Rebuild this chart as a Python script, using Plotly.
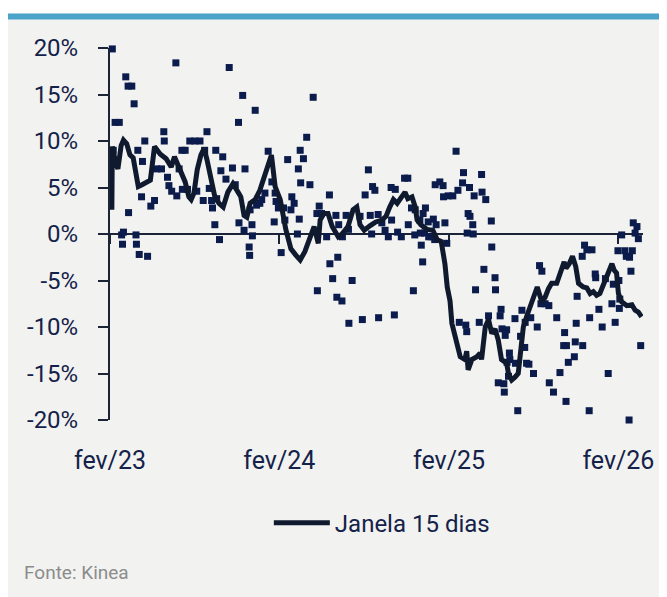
import pandas as pd
import plotly.graph_objects as go

START = pd.Timestamp("2023-02-01")

# 15-day window line: day offset from 2023-02-01, value in %
line_day = [
    4, 5, 13, 17, 24, 29, 36, 43, 50, 56,
    61, 69, 80, 87, 96, 108, 121, 132, 139, 151,
    162, 170, 175, 181, 188, 196, 203, 209, 218, 226,
    235, 244, 254, 265, 276, 282, 289, 295, 302, 313,
    323, 332, 341, 348, 356, 367, 379, 390, 401, 410,
    420, 431, 440, 449, 453, 461, 470, 479, 492, 500,
    513, 524, 532, 539, 548, 561, 573, 586, 595, 603,
    611, 619, 629, 636, 642, 651, 658, 662, 670, 683,
    696, 705, 714, 722, 727, 733, 737, 748, 755, 765,
    769, 772, 780, 791, 798, 801, 809, 816, 823, 830,
    837, 844, 855, 859, 866, 873, 880, 884, 891, 898,
    909, 921, 931, 938, 945, 952, 963, 970, 979, 983,
    990, 997, 1004, 1010, 1020, 1028, 1035, 1042, 1049, 1056,
    1064, 1071, 1082, 1087, 1092, 1096, 1103, 1114, 1125, 1132,
    1139, 1146,
]
line_val = [
    2.6, 9.4, 7.5, 7.0, 9.5, 10.1, 9.7, 8.5, 8.2, 6.5,
    5.1, 5.3, 5.6, 5.8, 9.4, 8.6, 8.1, 7.2, 8.3, 6.7,
    5.6, 4.0, 3.7, 4.4, 6.9, 8.5, 9.2, 8.0, 5.6, 4.0,
    3.3, 2.9, 4.5, 5.4, 4.5, 4.0, 2.0, 1.8, 3.3, 3.7,
    4.7, 6.2, 7.5, 8.5, 5.1, 3.7, 0.5, -1.6, -2.3, -2.8,
    -1.9, -0.6, 0.8, -1.0, 1.5, 2.2, 2.2, 0.8, -0.3, 0.0,
    0.8, 2.6, 2.9, 1.0, 0.4, 0.9, 1.3, 1.5, 1.9, 2.9,
    3.7, 3.3, 4.0, 4.5, 3.8, 4.0, 2.9, 1.5, 1.0, 0.5,
    0.4, -0.6, -0.8, -3.2, -5.7, -7.2, -9.6, -11.8, -13.2, -13.5,
    -12.6, -14.6, -13.5, -13.2, -12.8, -13.5, -10.0, -9.2, -10.7, -10.2,
    -11.4, -13.5, -13.9, -15.0, -15.7, -15.4, -15.0, -13.2, -10.0, -8.9,
    -7.3, -5.7, -7.3, -6.8, -5.9, -5.3, -5.3, -4.4, -3.0, -3.7,
    -3.2, -2.4, -3.5, -5.3, -5.7, -5.8, -6.4, -6.2, -6.6, -6.4,
    -5.5, -4.4, -3.2, -3.9, -4.2, -6.4, -7.3, -7.7, -7.6, -8.2,
    -8.4, -8.9,
]

# individual observations: day offset from 2023-02-01, value in %
obs_day = [
    5, 7, 11, 20, 25, 27, 29, 34, 39, 40,
    47, 52, 56, 57, 60, 63, 68, 70, 75, 81,
    88, 96, 101, 111, 116, 117, 124, 127, 133, 142,
    144, 149, 155, 156, 162, 167, 172, 183, 187, 194,
    201, 204, 209, 214, 219, 221, 226, 228, 230, 236,
    239, 243, 250, 257, 264, 270, 277, 278, 286, 289,
    291, 300, 301, 302, 306, 307, 313, 316, 323, 327,
    334, 341, 349, 354, 356, 358, 363, 369, 374, 377,
    383, 390, 392, 397, 404, 406, 408, 410, 411, 417,
    424, 431, 438, 446, 447, 451, 456, 467, 473, 474,
    480, 487, 489, 491, 493, 500, 501, 509, 514, 515,
    522, 539, 544, 550, 557, 561, 564, 566, 571, 578,
    579, 586, 593, 600, 606, 607, 613, 615, 620, 628,
    635, 642, 643, 650, 654, 657, 658, 668, 669, 671,
    674, 675, 678, 680, 686, 687, 694, 697, 700, 701,
    703, 711, 718, 719, 722, 726, 729, 739, 746, 750,
    753, 760, 762, 767, 769, 770, 772, 775, 776, 782,
    783, 785, 788, 796, 801, 802, 806, 810, 816, 822,
    823, 830, 831, 837, 841, 843, 845, 849, 850, 852,
    855, 856, 859, 861, 862, 873, 874, 879, 885, 888,
    894, 895, 898, 903, 907, 913, 921, 926, 929, 931,
    938, 946, 947, 956, 963, 970, 978, 980, 983, 984,
    988, 1001, 1003, 1005, 1007, 1018, 1019, 1023, 1028, 1033,
    1034, 1039, 1046, 1047, 1054, 1061, 1068, 1074, 1082, 1085,
    1089, 1095, 1097, 1098, 1099, 1103, 1110, 1113, 1119, 1120,
    1123, 1126, 1128, 1132, 1136, 1139, 1144,
]
obs_val = [
    19.9, 9.0, 12.0, 12.0, -0.1, -1.1, 0.2, 16.9, 15.9, 2.3,
    15.9, 14.0, -0.1, -1.1, 9.0, -2.2, 4.0, 7.8, 10.0, -2.4,
    3.0, 3.6, 7.0, 7.0, 11.0, 10.0, 6.1, 5.2, 4.6, 18.4,
    4.1, 7.0, 9.0, 4.8, 9.0, 4.8, 10.0, 10.0, 4.6, 10.0,
    3.6, 9.0, 11.0, 4.9, 3.6, 2.8, 1.0, 9.0, 3.8, -0.6,
    6.8, 8.3, 5.9, 17.9, 7.1, 5.3, 12.0, 1.2, 14.9, 0.4,
    7.0, -1.4, -2.3, 2.6, 1.0, -0.2, 13.3, 3.1, 3.3, 3.7,
    4.4, 8.9, 5.6, 1.3, 4.4, 3.5, 2.8, -2.0, 2.8, 1.5,
    8.0, 2.6, 4.0, 3.3, 0.0, 7.0, 1.6, 9.0, 5.5, 8.1,
    10.4, 5.3, 14.7, 2.2, -6.1, 3.0, 2.2, -0.3, 4.2, -3.2,
    -4.8, 2.0, -6.8, -2.5, 1.0, -7.2, -0.3, 2.0, 0.5, -9.6,
    -5.0, 1.9, -9.2, 4.2, 6.9, 2.0, 0.0, 5.1, 4.7, 2.1,
    -9.0, 1.2, 0.4, -0.3, 5.0, 1.5, -8.7, 4.8, 0.2, -0.3,
    6.0, 6.0, 1.0, 2.8, -6.1, -0.1, 2.6, 1.5, 0.1, -1.2,
    -3.0, 2.2, 0.1, 2.8, 1.3, -0.3, -0.3, 1.6, -0.6, 5.3,
    1.0, 5.6, 5.2, 4.0, 1.2, -1.0, 4.1, 4.1, 8.9, 4.7,
    -9.5, 5.5, 6.6, -9.8, -10.5, 0.1, 2.2, 5.0, 1.9, 1.0,
    0.0, 4.1, -6.0, -9.5, 6.4, 4.5, -3.8, 3.7, -8.8, 1.4,
    -1.4, -4.7, -6.0, -16.0, -8.8, -8.1, -10.2, -16.1, -17.0, -10.9,
    -10.3, -13.8, -15.3, -12.8, -13.5, -9.1, -13.9, -19.0, -11.0, -8.2,
    -12.2, -9.5, -13.9, -14.0, -9.0, -15.0, -10.0, -3.4, -7.5, -4.0,
    -7.5, -7.7, -16.0, -17.0, -9.0, -14.9, -12.0, -10.6, -18.0, -12.0,
    -13.8, -13.2, -11.6, -9.6, -6.7, -2.4, -12.0, -1.2, -1.7, -19.0,
    -9.0, -1.7, -4.3, -4.7, -8.1, -10.0, -4.8, -15.0, -7.5, -5.4,
    -9.5, -1.8, -5.0, -8.0, -7.0, -0.1, -1.8, -2.4, -20.0, -2.5,
    -4.0, -1.8, 1.2, 0.1, 0.8, -0.5, -12.0,
]

x_ticks = ["2023-02-01", "2024-02-01", "2025-02-01", "2026-02-01"]
x_labels = ["fev/23", "fev/24", "fev/25", "fev/26"]
y_ticks = [20, 15, 10, 5, 0, -5, -10, -15, -20]
y_labels = ["20%", "15%", "10%", "5%", "0%", "-5%", "-10%", "-15%", "-20%"]
x_range = ["2023-02-01", "2026-03-26"]
series_name = "Janela 15 dias"
source_text = "Fonte: Kinea"

line_x = START + pd.to_timedelta(line_day, unit="D")
obs_x = START + pd.to_timedelta(obs_day, unit="D")

NAVY = "#14224a"
AXIS = "#1c2438"
BG = "#f2f2f0"
FONT = "Roboto"

fig = go.Figure()
fig.add_trace(go.Scatter(
    x=obs_x, y=obs_val, mode="markers", showlegend=False,
    marker=dict(symbol="square", size=7, color="#0b1c4c"),
    cliponaxis=False, hoverinfo="skip",
))
fig.add_trace(go.Scatter(
    x=line_x, y=line_val, mode="lines", name=series_name, xaxis="x2",
    line=dict(color="#0f1a2e", width=5, shape="linear"),
))

fig.update_layout(
    width=659, height=589,
    margin=dict(l=102, r=24, t=40, b=177),
    paper_bgcolor=BG, plot_bgcolor=BG,
    font=dict(family=FONT, color=NAVY),
    xaxis=dict(
        type="date", range=x_range, showgrid=False, zeroline=False,
        showline=False, ticks="", tickvals=x_ticks, ticktext=x_labels,
        tickfont=dict(size=25, color=NAVY), ticklabelstandoff=23,
    ),
    xaxis2=dict(
        type="date", overlaying="x", matches="x", anchor="free", position=0.5,
        showgrid=False, zeroline=False, showline=True, linecolor=AXIS,
        linewidth=2, ticks="outside", ticklen=9, tickwidth=2, tickcolor=AXIS,
        tickvals=x_ticks, showticklabels=False, layer="below traces",
    ),
    yaxis=dict(
        range=[-20, 20], showgrid=False, zeroline=False, showline=True,
        linecolor=AXIS, linewidth=2, ticks="outside", ticklen=10,
        tickwidth=2, tickcolor=AXIS, tickvals=y_ticks, ticktext=y_labels,
        tickfont=dict(size=24, color=NAVY), ticklabelstandoff=15,
    ),
    legend=dict(
        orientation="h", x=0.298, xanchor="left", y=-0.277, yanchor="middle",
        font=dict(size=24, color=NAVY), bgcolor="rgba(0,0,0,0)",
        itemwidth=56,
    ),
    showlegend=True,
    shapes=[
        dict(type="rect", xref="paper", yref="paper", x0=-0.21, x1=1.05,
             y0=1.0928, y1=1.11, fillcolor="white", line_width=0, layer="below"),
        dict(type="rect", xref="paper", yref="paper", x0=-0.21, x1=1.05,
             y0=1.0767, y1=1.0928, fillcolor="#4ba3c9", line_width=0, layer="below"),
    ],
    annotations=[
        dict(text=source_text, xref="paper", yref="paper", x=-0.165, y=-0.411,
             xanchor="left", yanchor="middle", showarrow=False,
             font=dict(size=19, color="#8c8c8c", family=FONT)),
    ],
)

fig.write_html("out.html")
